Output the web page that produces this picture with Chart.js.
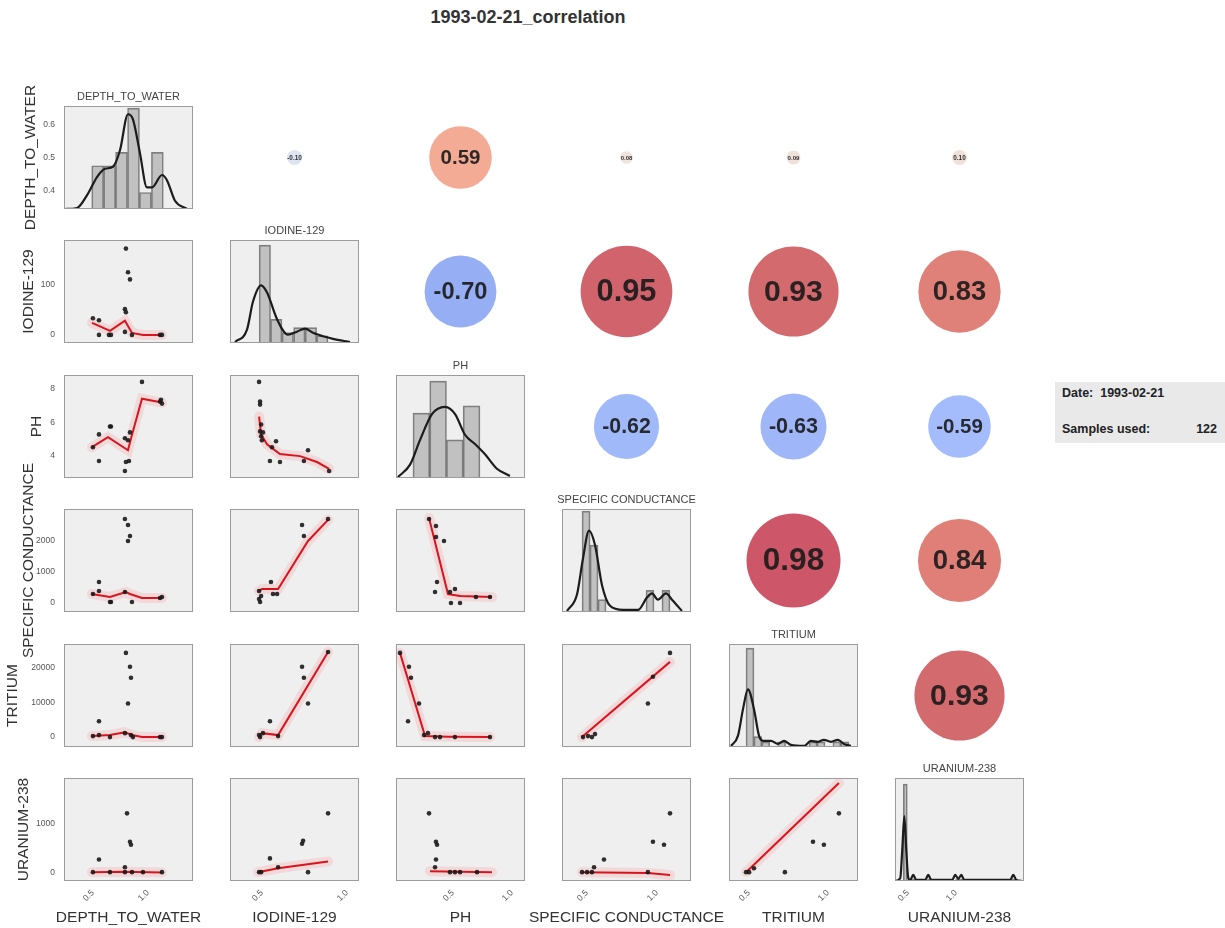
<!DOCTYPE html>
<html><head><meta charset="utf-8">
<script src="https://cdn.jsdelivr.net/npm/chart.js@4.4.0/dist/chart.umd.min.js"></script>
<style>
html,body{margin:0;padding:0;background:#fff;overflow:hidden;width:1225px;height:928px}
#wrap{position:relative;width:1225px;height:928px;overflow:hidden}
#wrap canvas{position:absolute}
#title{position:absolute;left:0;width:1056px;top:6px;text-align:center;font:bold 18px "Liberation Sans",Arial,sans-serif;line-height:22px;color:#333}
#info{position:absolute;left:1055px;top:382px;width:170px;height:61px;background:#e9e9e9;font:bold 12.5px "Liberation Sans",Arial,sans-serif;color:#222;line-height:15px}
#info .row{position:absolute;left:7px;right:8px}
#info .num{position:absolute;right:0;top:0}
</style></head><body>
<div id="wrap">
<div id="title">1993-02-21_correlation</div>
<div id="info">
 <div class="row" style="top:4px">Date:&nbsp;&nbsp;1993-02-21</div>
 <div class="row" style="top:40px">Samples used:<span class="num">122</span></div>
</div>
</div>
<script>
// ================= DATA =================
const VARS = ['DEPTH_TO_WATER','IODINE-129','PH','SPECIFIC CONDUCTANCE','TRITIUM','URANIUM-238'];

const xTickValues = [0.5, 1.0];
const yTicks_DTW = [0.4, 0.5, 0.6];
const yTicks_IOD = [0, 100];
const yTicks_PH  = [4, 6, 8];
const yTicks_SC  = [0, 1000, 2000];
const yTicks_TRI = [0, 10000, 20000];
const yTicks_U   = [0, 1000];

const xLim_DTW = [0.282, 1.455];
const xLim_IOD = [0.341, 1.100];
const xLim_PH  = [0.059, 1.153];
const xLim_SC  = [0.357, 1.279];
const xLim_TRI = [0.405, 1.222];
const xLim_U   = [0.417, 1.760];

const yLim_DTW = [0.343, 0.655];
const yLim_IOD = [-16, 188];
const yLim_PH  = [2.7, 8.82];
const yLim_SC  = [-290, 3030];
const yLim_TRI = [-2860, 26860];
const yLim_U   = [-184, 1960];

// diagonal histograms (bin centres, relative heights) and KDE curves
const hist_DTW_x = [0.588, 0.697, 0.805, 0.914, 1.022, 1.131];
const hist_DTW_h = [0.42, 0.42, 0.55, 0.98, 0.16, 0.55];
const kde_DTW_x = [0.291, 0.40, 0.50, 0.582, 0.655, 0.727, 0.791, 0.864, 0.909, 0.973, 1.036, 1.082, 1.173, 1.218, 1.291, 1.40];
const kde_DTW_h = [0.00, 0.01, 0.15, 0.31, 0.39, 0.41, 0.57, 0.92, 0.87, 0.54, 0.21, 0.21, 0.33, 0.28, 0.08, 0.00];

const hist_IOD_x = [0.546, 0.613, 0.681, 0.749, 0.817, 0.884];
const hist_IOD_h = [0.95, 0.23, 0.10, 0.15, 0.15, 0.07];
const kde_IOD_x = [0.371, 0.441, 0.476, 0.524, 0.559, 0.618, 0.682, 0.735, 0.782, 0.829, 0.90, 0.947, 1.047];
const kde_IOD_h = [0.01, 0.13, 0.40, 0.56, 0.49, 0.23, 0.08, 0.11, 0.14, 0.10, 0.06, 0.04, 0.01];

const hist_PH_x = [0.274, 0.416, 0.558, 0.700];
const hist_PH_h = [0.63, 0.94, 0.37, 0.70];
const kde_PH_x = [0.076, 0.178, 0.263, 0.364, 0.475, 0.56, 0.644, 0.729, 0.814, 0.915, 1.025];
const kde_PH_h = [0.01, 0.13, 0.37, 0.62, 0.69, 0.62, 0.42, 0.33, 0.23, 0.09, 0.02];

const hist_SC_x = [0.529, 0.586, 0.643, 0.700, 0.757, 0.814, 0.871, 0.928, 0.986, 1.043, 1.100];
const hist_SC_h = [0.98, 0.65, 0.12, 0, 0, 0, 0, 0, 0.21, 0, 0.21];
const kde_SC_x = [0.393, 0.464, 0.507, 0.55, 0.593, 0.643, 0.70, 0.793, 0.90, 0.964, 1.0, 1.043, 1.10, 1.143, 1.214];
const kde_SC_h = [0.01, 0.17, 0.52, 0.79, 0.65, 0.26, 0.06, 0.02, 0.02, 0.14, 0.18, 0.12, 0.18, 0.12, 0.01];

const hist_TRI_x = [0.538, 0.588, 0.638, 0.688, 0.738, 0.788, 0.838, 0.888, 0.938, 0.988, 1.038, 1.088, 1.138];
const hist_TRI_h = [0.96, 0.10, 0.05, 0, 0.05, 0, 0, 0, 0.05, 0.05, 0, 0.05, 0.05];
const kde_TRI_x = [0.418, 0.462, 0.494, 0.525, 0.563, 0.595, 0.62, 0.671, 0.715, 0.753, 0.797, 0.88, 0.924, 0.968, 1.006, 1.051, 1.095, 1.133, 1.177];
const kde_TRI_h = [0.01, 0.11, 0.37, 0.56, 0.37, 0.11, 0.06, 0.06, 0.03, 0.06, 0.02, 0.01, 0.06, 0.05, 0.07, 0.05, 0.07, 0.03, 0.01];

const hist_U_x = [0.524, 0.566, 0.608, 0.776, 1.070, 1.112, 1.658];
const hist_U_h = [0.94, 0, 0.02, 0.02, 0.02, 0.02, 0.02];
const kde_U_x = [0.419, 0.472, 0.493, 0.514, 0.534, 0.555, 0.576, 0.607, 0.638, 0.732, 0.763, 0.795, 1.013, 1.044, 1.076, 1.107, 1.138, 1.617, 1.648, 1.68, 1.742];
const kde_U_h = [0, 0.03, 0.31, 0.63, 0.31, 0.03, 0.01, 0.06, 0.01, 0.01, 0.06, 0.01, 0.01, 0.06, 0.02, 0.06, 0.01, 0.01, 0.06, 0.01, 0];

// scatter points [x, y] and lowess lines, named sc_<Yvar>_<Xvar>
const sc_IOD_DTW = [[0.845,171],[0.864,124],[0.882,110],[0.836,51],[0.845,45],[0.545,33],[0.6,29],[0.6,0],[0.691,0],[0.709,0],[0.836,6],[0.9,0],[1.155,0],[1.173,0]];
const lw_IOD_DTW = [[0.536,24],[0.6,18],[0.7,8],[0.836,28],[0.9,4],[1.0,0],[1.173,0]];

const sc_PH_DTW = [[0.545,4.53],[0.6,5.29],[0.6,3.71],[0.7,5.76],[0.709,5.76],[0.836,5.06],[0.845,3.65],[0.836,3.12],[0.873,3.71],[0.882,5.41],[0.864,4.94],[0.991,8.41],[1.155,7.24],[1.173,7.12],[1.164,7.35]];
const lw_PH_DTW = [[0.536,4.53],[0.682,5.12],[0.864,4.35],[0.891,5.05],[0.991,7.41],[1.173,7.18]];

const sc_SC_DTW = [[0.545,290],[0.6,677],[0.6,387],[0.7,32],[0.709,32],[0.836,2710],[0.864,2516],[0.882,2161],[0.864,2000],[0.836,355],[0.9,32],[1.155,161],[1.173,194]];
const lw_SC_DTW = [[0.536,290],[0.7,194],[0.845,355],[0.882,290],[0.991,161],[1.173,161]];

const sc_TRI_DTW = [[0.845,24290],[0.882,20290],[0.891,17140],[0.864,9710],[0.6,4570],[0.545,290],[0.6,570],[0.7,0],[0.836,1140],[0.891,570],[0.909,0],[1.173,0],[1.155,0]];
const lw_TRI_DTW = [[0.536,300],[0.7,600],[0.836,1400],[0.9,600],[0.991,0],[1.173,0]];

const sc_U_DTW = [[0.855,1224],[0.882,633],[0.891,571],[0.6,265],[0.836,102],[0.545,0],[0.7,0],[0.836,0],[0.9,0],[1.173,0],[1.0,0]];
const lw_U_DTW = [[0.536,0],[0.836,8],[1.173,-5]];

const sc_PH_IOD = [[0.512,8.41],[0.518,7.24],[0.518,7.06],[0.524,5.88],[0.518,5.47],[0.524,5.18],[0.529,4.94],[0.535,5.41],[0.588,4.53],[0.612,4.88],[0.576,3.71],[0.635,3.65],[0.776,3.71],[0.8,4.35],[0.924,3.12]];
const lw_PH_IOD = [[0.512,6.35],[0.524,5.29],[0.559,4.7],[0.635,4.12],[0.753,4.0],[0.853,3.65],[0.924,3.24]];

const sc_SC_IOD = [[0.512,387],[0.518,32],[0.512,129],[0.524,226],[0.582,677],[0.594,290],[0.618,290],[0.765,2516],[0.776,2161],[0.918,2710]];
const lw_SC_IOD = [[0.512,387],[0.529,450],[0.624,450],[0.8,2000],[0.918,2680]];

const sc_TRI_IOD = [[0.765,20290],[0.776,17140],[0.8,9710],[0.576,4570],[0.512,570],[0.518,0],[0.535,1140],[0.624,290],[0.918,24570]];
const lw_TRI_IOD = [[0.512,0],[0.529,1140],[0.624,570],[0.918,24570]];

const sc_U_IOD = [[0.918,1224],[0.765,592],[0.771,653],[0.576,286],[0.512,0],[0.524,0],[0.624,102],[0.8,0]];
const lw_U_IOD = [[0.506,0],[0.624,82],[0.918,224]];

const sc_SC_PH = [[0.339,2710],[0.398,2484],[0.398,2129],[0.466,2000],[0.407,677],[0.39,355],[0.517,355],[0.559,452],[0.525,0],[0.602,0],[0.737,194],[0.856,194]];
const lw_SC_PH = [[0.339,2740],[0.5,290],[0.602,226],[0.873,194]];

const sc_TRI_PH = [[0.093,24290],[0.169,20290],[0.186,17140],[0.254,9710],[0.161,4570],[0.297,570],[0.33,1140],[0.39,0],[0.432,0],[0.559,0],[0.856,0]];
const lw_TRI_PH = [[0.093,24290],[0.305,290],[0.5,100],[0.856,0]];

const sc_U_PH = [[0.339,1224],[0.398,633],[0.407,571],[0.398,265],[0.39,102],[0.517,0],[0.559,0],[0.602,0],[0.746,0]];
const lw_U_PH = [[0.347,20],[0.873,0]];

const sc_TRI_SC = [[1.129,24290],[1.007,17430],[0.971,9710],[0.507,0],[0.543,290],[0.593,860],[0.571,0]];
const lw_TRI_SC = [[0.5,0],[1.129,21700]];

const sc_U_SC = [[1.129,1224],[1.007,633],[1.086,571],[0.657,265],[0.586,102],[0.5,0],[0.536,0],[0.571,0],[0.971,0]];
const lw_U_SC = [[0.5,0],[0.971,-20],[1.129,-61]];

const sc_U_TRI = [[1.101,1224],[0.937,633],[1.006,571],[0.759,0],[0.513,0],[0.532,0],[0.563,82]];
const lw_U_TRI = [[0.513,0],[1.101,1857]];

// correlations, upper triangle, row by row
const corr_DTW = [-0.10, 0.59, 0.08, 0.09, 0.10];
const corr_IOD = [-0.70, 0.95, 0.93, 0.83];
const corr_PH  = [-0.62, -0.63, -0.59];
const corr_SC  = [0.98, 0.84];
const corr_TRI = [0.93];

// ================= LAYOUT / STYLE =================
const FONT = '"Liberation Sans", Arial, Helvetica, sans-serif';
const COL_L = [64, 230, 396, 562, 729, 895];
const ROW_T = [106, 240, 375, 509, 644, 778];
const PW = 129, PHh = 103, PAD = 70;
const YAXIS_W = 64, XAXIS_H = 26;
const ROW_LABEL_X = [31, 28.5, 36.5, 29, 12.5, 24];
const LBL_FS = 15.5, SUB_H = LBL_FS * 1.2 + 1;
const DIAG_FS = 11, TITLE_PB = 2, TITLE_H = DIAG_FS * 1.2 + TITLE_PB;

const yTicks = [yTicks_DTW, yTicks_IOD, yTicks_PH, yTicks_SC, yTicks_TRI, yTicks_U];
const xLims = [xLim_DTW, xLim_IOD, xLim_PH, xLim_SC, xLim_TRI, xLim_U];
const yLims = [yLim_DTW, yLim_IOD, yLim_PH, yLim_SC, yLim_TRI, yLim_U];
const hists = [[hist_DTW_x,hist_DTW_h],[hist_IOD_x,hist_IOD_h],[hist_PH_x,hist_PH_h],[hist_SC_x,hist_SC_h],[hist_TRI_x,hist_TRI_h],[hist_U_x,hist_U_h]];
const kdes = [[kde_DTW_x,kde_DTW_h],[kde_IOD_x,kde_IOD_h],[kde_PH_x,kde_PH_h],[kde_SC_x,kde_SC_h],[kde_TRI_x,kde_TRI_h],[kde_U_x,kde_U_h]];
const scatters = {
  '1,0':[sc_IOD_DTW,lw_IOD_DTW], '2,0':[sc_PH_DTW,lw_PH_DTW], '3,0':[sc_SC_DTW,lw_SC_DTW], '4,0':[sc_TRI_DTW,lw_TRI_DTW], '5,0':[sc_U_DTW,lw_U_DTW],
  '2,1':[sc_PH_IOD,lw_PH_IOD], '3,1':[sc_SC_IOD,lw_SC_IOD], '4,1':[sc_TRI_IOD,lw_TRI_IOD], '5,1':[sc_U_IOD,lw_U_IOD],
  '3,2':[sc_SC_PH,lw_SC_PH], '4,2':[sc_TRI_PH,lw_TRI_PH], '5,2':[sc_U_PH,lw_U_PH],
  '4,3':[sc_TRI_SC,lw_TRI_SC], '5,3':[sc_U_SC,lw_U_SC],
  '5,4':[sc_U_TRI,lw_U_TRI]
};
const corrRows = [corr_DTW, corr_IOD, corr_PH, corr_SC, corr_TRI];

const CW = [[59,76,192],[68,90,204],[77,104,215],[87,117,225],[98,130,234],[108,142,241],[119,154,247],[130,165,251],[141,176,254],[152,185,255],[163,194,255],[174,201,253],[184,208,249],[194,213,244],[204,217,238],[213,219,230],[221,221,221],[229,216,209],[236,211,197],[241,204,185],[245,196,173],[247,187,160],[247,177,148],[247,166,135],[244,154,123],[241,141,111],[236,127,99],[229,112,88],[222,96,77],[213,80,66],[203,62,56],[192,40,47],[180,4,38]];
function coolwarm(v, a) {
  const p = (v + 1) / 2 * 32;
  const i = Math.max(0, Math.min(31, Math.floor(p)));
  const t = p - i;
  const c = CW[i].map((q, k) => Math.round(q + (CW[i + 1][k] - q) * t));
  return `rgba(${c[0]},${c[1]},${c[2]},${a})`;
}
const corrRadius = v => 47 * Math.pow(Math.abs(v) / 0.98, 0.8);
const corrFont = v => 0.716 * (Math.abs(v) * 40 + 5);

Chart.defaults.font.family = FONT;

const panelPlugin = {
  id: 'panel',
  beforeDatasetsDraw(chart, args, o) {
    if (!o || !o.on) return;
    const a = chart.chartArea, ctx = chart.ctx;
    ctx.save(); ctx.fillStyle = '#efefef';
    ctx.fillRect(a.left, a.top, a.right - a.left, a.bottom - a.top);
    ctx.restore();
  },
  afterDatasetsDraw(chart, args, o) {
    if (!o || !o.on) return;
    const a = chart.chartArea, ctx = chart.ctx;
    ctx.save(); ctx.strokeStyle = '#9c9c9c'; ctx.lineWidth = 1;
    ctx.strokeRect(a.left + 0.5, a.top + 0.5, a.right - a.left - 1, a.bottom - a.top - 1);
    ctx.restore();
  }
};
const corrTextPlugin = {
  id: 'corrText',
  afterDatasetsDraw(chart, args, o) {
    if (!o || o.value === undefined) return;
    const el = chart.getDatasetMeta(0).data[0];
    const ctx = chart.ctx;
    ctx.save();
    ctx.font = `bold ${corrFont(o.value).toFixed(1)}px ${FONT}`;
    ctx.fillStyle = 'rgba(25,25,25,0.9)';
    ctx.textAlign = 'center'; ctx.textBaseline = 'middle';
    ctx.fillText(o.value.toFixed(2), el.x, el.y + 1);
    ctx.restore();
  }
};
Chart.register(panelPlugin, corrTextPlugin);

const wrap = document.getElementById('wrap');
function makeCanvas(r, c) {
  const left = c === 0 ? 0 : COL_L[c] - PAD;
  const padL = COL_L[c] - left;
  const padR = c === 0 ? COL_L[0] : PAD;
  const top = ROW_T[r] - PAD;
  const w = padL + PW + padR, h = PAD + PHh + PAD;
  const cv = document.createElement('canvas');
  cv.width = w; cv.height = h;
  cv.style.left = left + 'px'; cv.style.top = top + 'px';
  cv.style.width = w + 'px'; cv.style.height = h + 'px';
  wrap.appendChild(cv);
  return {cv, padL, padR, padT: PAD, padB: PAD};
}

// x axis is always laid out; on inner rows it is an empty spacer of height PAD
function xScale(c, show, g) {
  return {
    type: 'linear', display: true, min: xLims[c][0], max: xLims[c][1], offset: false,
    grid: {display: false, drawTicks: false}, border: {display: false},
    afterBuildTicks: s => { s.ticks = xTickValues.map(v => ({value: v})); },
    afterFit: s => { s.height = show ? XAXIS_H : g.padB; },
    ticks: {display: show, font: {family: FONT, size: 8.5}, color: '#555', minRotation: 45, maxRotation: 45,
            padding: 7, labelOffset: 5, autoSkip: false, callback: v => Number(v).toFixed(1)}
  };
}
// y axis is always laid out; on inner columns it is an empty spacer of width padL
function yScale(r, show, g) {
  return {
    type: 'linear', display: true, position: 'left', min: yLims[r][0], max: yLims[r][1],
    grid: {display: false, drawTicks: false}, border: {display: false},
    afterBuildTicks: s => { s.ticks = yTicks[r].map(v => ({value: v})); },
    afterFit: s => { s.width = show ? YAXIS_W : g.padL; },
    ticks: {display: show, font: {family: FONT, size: 8.5}, color: '#555', padding: 9, autoSkip: false, callback: v => String(v)},
    title: {display: show, text: VARS[r], color: '#333', font: {family: FONT, size: LBL_FS, lineHeight: 1.2},
            padding: {top: ROW_LABEL_X[r] - LBL_FS * 0.6, bottom: 0}}
  };
}
function rightSpacer(g) {
  return {type: 'linear', display: true, position: 'right', min: 0, max: 1,
          grid: {display: false, drawTicks: false}, border: {display: false},
          ticks: {display: false}, afterFit: s => { s.width = g.padR; }};
}
function baseOptions(g, r, c, titleH) {
  const showY = c === 0, showX = r === 5;
  return {
    responsive: false, maintainAspectRatio: false, animation: false, devicePixelRatio: 1, events: [],
    layout: {padding: {
      left: 0, right: 0,
      top: g.padT - titleH,
      bottom: showX ? g.padB - XAXIS_H - SUB_H : 0
    }},
    scales: {x: xScale(c, showX, g), y: yScale(r, showY, g), yr: rightSpacer(g)},
    plugins: {
      legend: {display: false}, tooltip: {enabled: false}, panel: {on: true},
      subtitle: {display: showX, text: VARS[c], position: 'bottom', color: '#333',
                 font: {family: FONT, size: LBL_FS, lineHeight: 1.2, weight: 'normal'}, padding: {top: 1, bottom: 0}}
    }
  };
}
const pts = arr => arr.map(p => ({x: p[0], y: p[1]}));

function scatterConfig(r, c, g) {
  const [sc, lw] = scatters[r + ',' + c];
  const opt = baseOptions(g, r, c, 0);
  return {
    type: 'scatter',
    data: {datasets: [
      {type: 'scatter', data: pts(sc), pointRadius: 2.3, pointBackgroundColor: 'rgba(25,25,25,0.9)', pointBorderWidth: 0, order: 0},
      {type: 'line', data: pts(lw), borderColor: '#d9141f', borderWidth: 2, pointRadius: 0, tension: 0, fill: false, order: 1},
      {type: 'line', data: pts(lw), borderColor: 'rgba(255,70,70,0.13)', borderWidth: 10, pointRadius: 0, tension: 0, fill: false, borderCapStyle: 'round', order: 2}
    ]},
    options: opt
  };
}
function diagConfig(i, g) {
  const opt = baseOptions(g, i, i, TITLE_H);
  opt.scales.yd = {type: 'linear', display: false, min: 0, max: 1};
  opt.plugins.title = {display: true, text: VARS[i], color: '#444', position: 'top',
                       font: {family: FONT, size: DIAG_FS, lineHeight: 1.2, weight: 'normal'}, padding: {top: 0, bottom: TITLE_PB}};
  const [hx, hh] = hists[i], [kx, kh] = kdes[i];
  return {
    type: 'scatter',
    data: {datasets: [
      {type: 'line', data: kx.map((x, k) => ({x, y: kh[k]})), yAxisID: 'yd', borderColor: '#1c1c1c', borderWidth: 2.2,
       pointRadius: 0, cubicInterpolationMode: 'monotone', fill: false, order: 0},
      {type: 'bar', data: hx.map((x, k) => ({x, y: hh[k]})), yAxisID: 'yd', backgroundColor: 'rgba(128,128,128,0.42)',
       borderColor: 'rgba(90,90,90,0.75)', borderWidth: 1, barPercentage: 1, categoryPercentage: 1, order: 1}
    ]},
    options: opt
  };
}
function corrConfig(r, c, g) {
  const v = corrRows[r][c - r - 1];
  return {
    type: 'bubble',
    data: {datasets: [{data: [{x: 0, y: 0, r: corrRadius(v)}], backgroundColor: coolwarm(v, 0.7), borderWidth: 0, hoverRadius: 0, clip: false}]},
    options: {
      responsive: false, maintainAspectRatio: false, animation: false, devicePixelRatio: 1, events: [],
      layout: {padding: {left: g.padL, right: g.padR, top: g.padT, bottom: g.padB}},
      scales: {x: {display: false, min: -1, max: 1}, y: {display: false, min: -1, max: 1}},
      plugins: {legend: {display: false}, tooltip: {enabled: false}, corrText: {value: v}}
    }
  };
}

for (let r = 0; r < 6; r++) {
  for (let c = 0; c < 6; c++) {
    const g = makeCanvas(r, c);
    let cfg;
    if (r < c) cfg = corrConfig(r, c, g);
    else if (r === c) cfg = diagConfig(r, g);
    else cfg = scatterConfig(r, c, g);
    new Chart(g.cv.getContext('2d'), cfg);
  }
}
</script>
</body></html>
